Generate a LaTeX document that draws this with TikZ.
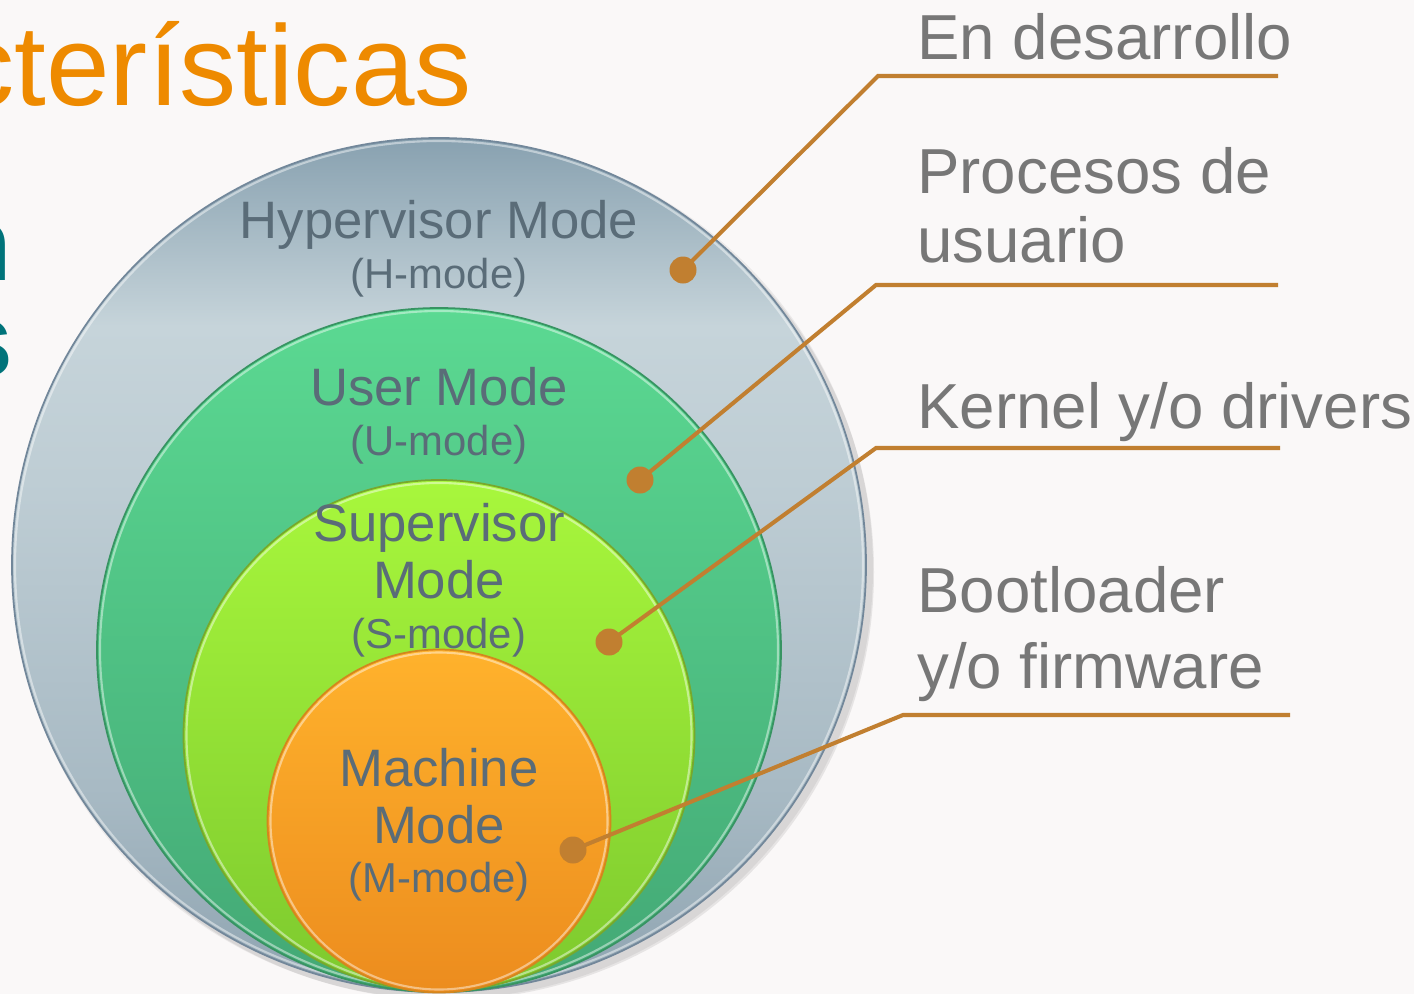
\documentclass[tikz,border=0pt]{standalone}
\usepackage{fontspec}
\setmainfont{Liberation Sans}
\usetikzlibrary{positioning, calc}
\definecolor{paper}{HTML}{FAF8F8}
\definecolor{titleorange}{HTML}{EE8A00}
\definecolor{tealtext}{HTML}{00737A}
\definecolor{labelgray}{HTML}{777777}
\definecolor{modeslate}{HTML}{5A6C78}
\definecolor{leader}{HTML}{C17F30}
% ring colours
\definecolor{hypTop}{HTML}{88A1B0}
\definecolor{hypLight}{HTML}{C6D4DA}
\definecolor{hypMid}{HTML}{BECDD4}
\definecolor{hypLow}{HTML}{A8BAC4}
\definecolor{hypBot}{HTML}{8FA4B1}
\definecolor{hypEdge}{HTML}{72879A}
\definecolor{usrTop}{HTML}{5BD992}
\definecolor{usrBot}{HTML}{43A875}
\definecolor{usrEdge}{HTML}{379462}
\definecolor{supTop}{HTML}{A8F73C}
\definecolor{supBot}{HTML}{7DC92E}
\definecolor{supEdge}{HTML}{78A82C}
\definecolor{macTop}{HTML}{FFB22C}
\definecolor{macBot}{HTML}{EC8C1E}
\definecolor{macEdge}{HTML}{D3861E}
\pgfdeclareverticalshading{hypfill}{100bp}{color(0bp)=(hypBot); color(25bp)=(hypBot); color(37bp)=(hypLow); color(55bp)=(hypMid); color(64bp)=(hypLight); color(75bp)=(hypTop); color(100bp)=(hypTop)}
\begin{document}
\begin{tikzpicture}[
        x=0.02cm, y=-0.02cm,
        ring/.style={circle, inner sep=0pt, line width=1pt},
        bevel/.style={draw=white, opacity=0.45, line width=1.2pt},
        modetext/.style={font=\fontsize{30}{34}\selectfont, text=modeslate, inner sep=0pt, anchor=base},
        modetag/.style={font=\fontsize{23.8}{27}\selectfont, text=modeslate, inner sep=0pt, anchor=base},
        sidetext/.style={font=\fontsize{36.2}{39}\selectfont, text=labelgray, inner sep=0pt, anchor=base west, align=left},
        pindot/.style={circle, fill=leader, inner sep=0pt, minimum size=27*0.02cm},
        leaderline/.style={draw=leader, line width=2.3pt}
    ]
        \useasboundingbox (0,0) rectangle (1414,994);
        \clip (0,0) rectangle (1414,994);
        \fill[paper] (0,0) rectangle (1414,994);

        % Cut-off slide text
        \node[font=\fontsize{65}{70}\selectfont, text=titleorange, inner sep=0pt, anchor=base east] (title) at (472,105) {cterísticas};
        \node[font=\fontsize{60}{64}\selectfont\bfseries, text=tealtext, inner sep=0pt, anchor=base east] (fragN) at (12,280) {n};
        \node[font=\fontsize{60}{64}\selectfont\bfseries, text=tealtext, inner sep=0pt, anchor=base east] (fragS) at (13,376) {s};

        % Shadow
        \fill[black, opacity=0.08] (446,572) circle[radius=428];
        \fill[black, opacity=0.06] (443,569) circle[radius=430];

        % Rings
        \node[ring, draw=hypEdge, shading=hypfill, minimum size=854*0.02cm] (hyp) at (439,565) {};
        \draw[bevel] (hyp.center) circle[radius=424];
        \node[ring, draw=usrEdge, top color=usrTop, bottom color=usrBot, minimum size=684*0.02cm] (usr) at (439,650) {};
        \draw[bevel] (usr.center) circle[radius=339];
        \node[ring, draw=supEdge, top color=supTop, bottom color=supBot, minimum size=511*0.02cm] (sup) at (439,735.5) {};
        \draw[bevel] (sup.center) circle[radius=252.5];
        \node[ring, draw=macEdge, top color=macTop, bottom color=macBot, minimum size=343*0.02cm] (mac) at (439,821) {};
        \draw[bevel] (mac.center) circle[radius=168.5];

        % Ring labels
        \node[modetext] (hypName) at (439,238) {Hypervisor Mode};
        \node[modetag] (hypTag) at (439,288) {(H-mode)};
        \node[modetext] (usrName) at (439,405) {User Mode};
        \node[modetag] (usrTag) at (439,455) {(U-mode)};
        \node[modetext] (supName) at (439,541) {Supervisor};
        \node[modetext] (supMode) at (439,598) {Mode};
        \node[modetag] (supTag) at (439,648) {(S-mode)};
        \node[modetext] (macName) at (439,786) {Machine};
        \node[modetext] (macMode) at (439,843) {Mode};
        \node[modetag] (macTag) at (439,892) {(M-mode)};

        % Side labels (base = last line)
        \node[sidetext] (devLbl) at (917,59) {En desarrollo};
        \node[sidetext, font=\fontsize{36.2}{39.1}\selectfont] (procLbl) at (917,262) {Procesos de\\usuario};
        \node[sidetext] (kernLbl) at (917,428) {Kernel y/o drivers};
        \node[sidetext, font=\fontsize{36.2}{43.1}\selectfont] (bootLbl) at (917,688) {Bootloader\\y/o firmware};

        % Leader lines
        \node[pindot] (dotH) at (683,270) {};
        \node[pindot] (dotU) at (640,480) {};
        \node[pindot] (dotS) at (609,642) {};
        \node[pindot] (dotM) at (573,850) {};
        \coordinate (kneeH) at (878,76);
        \coordinate (endH) at (1278,76);
        \coordinate (kneeU) at (876,285);
        \coordinate (endU) at (1278,285);
        \coordinate (kneeS) at (876,448);
        \coordinate (endS) at (1280,448);
        \coordinate (kneeM) at (903,715);
        \coordinate (endM) at (1290,715);
        \draw[leaderline] (dotH.center) -- (kneeH) -- (endH);
        \draw[leaderline] (dotU.center) -- (kneeU) -- (endU);
        \draw[leaderline] (dotS.center) -- (kneeS) -- (endS);
        \draw[leaderline] (dotM.center) -- (kneeM) -- (endM);
    \end{tikzpicture}
\end{document}
